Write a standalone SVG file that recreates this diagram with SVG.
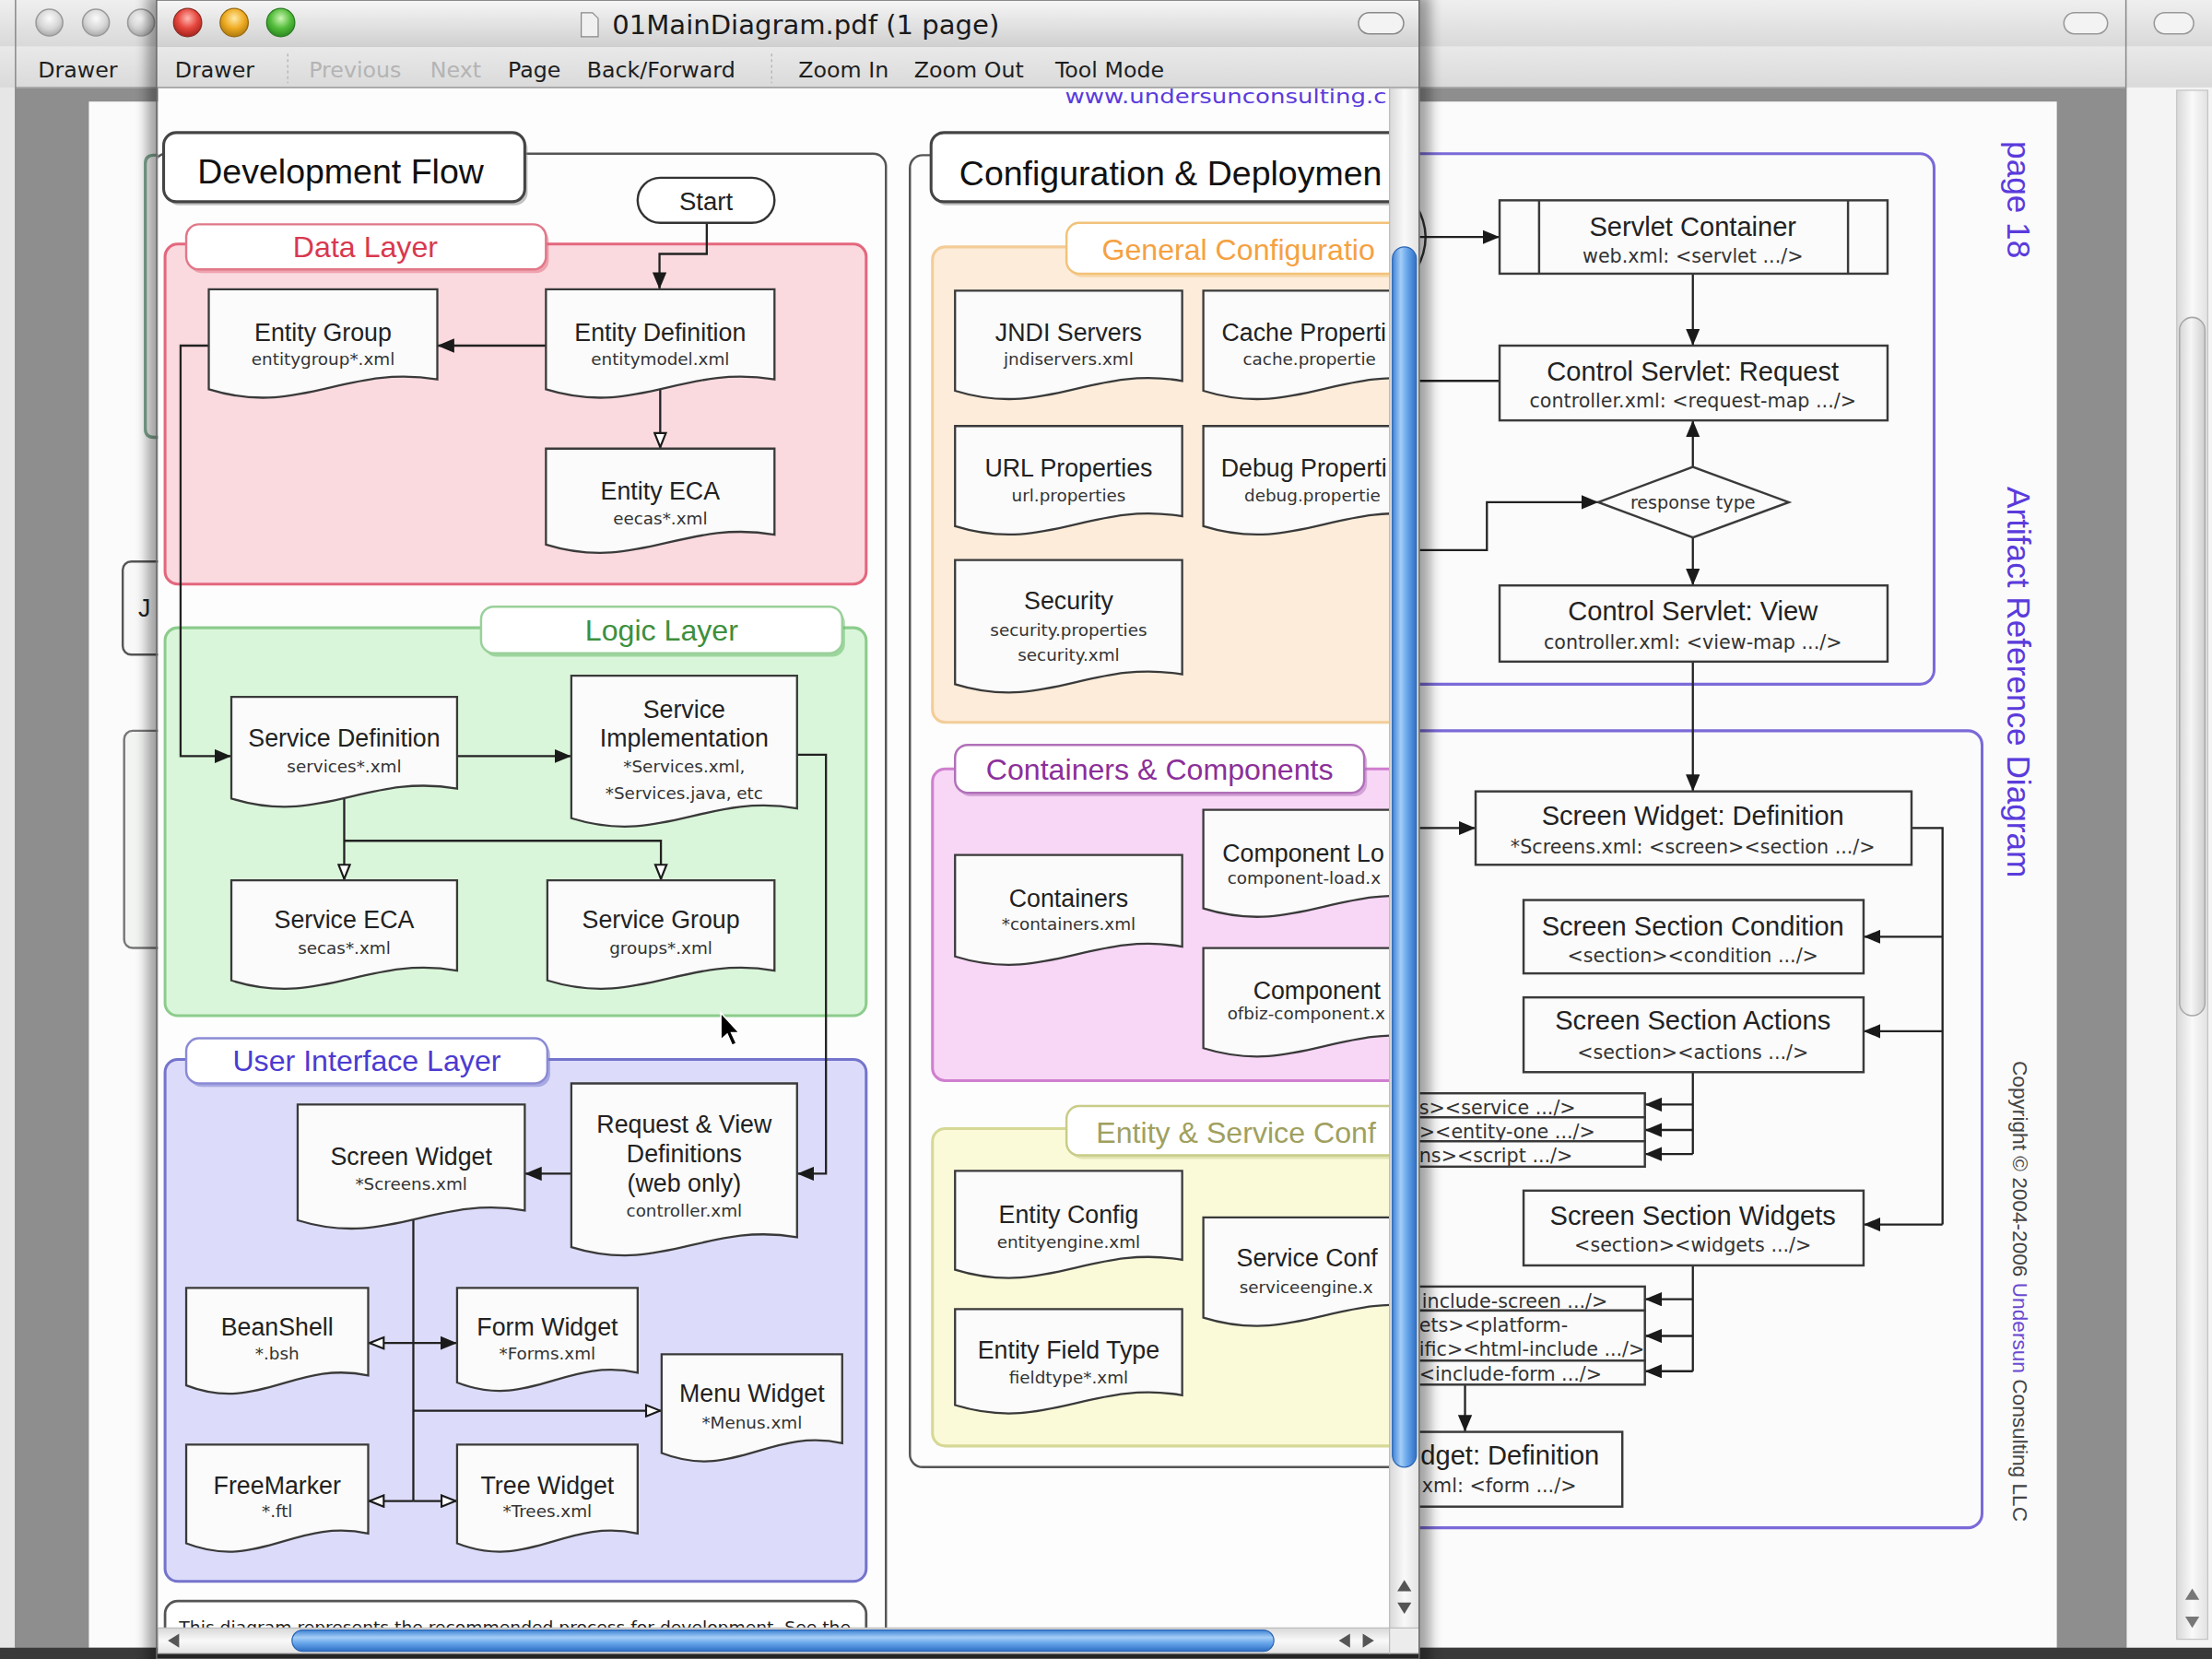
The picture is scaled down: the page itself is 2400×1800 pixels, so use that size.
<svg xmlns="http://www.w3.org/2000/svg" width="2400" height="1800" viewBox="0 0 2400 1800">
<defs>
<style>
.tb{font-family:'DejaVu Sans',Verdana,sans-serif;font-size:15.5px;fill:#1e1e1e}
.tbd{font-family:'DejaVu Sans',Verdana,sans-serif;font-size:15.5px;fill:#b4b4b4}
.h1{font-family:'Liberation Sans',Arial,sans-serif;font-size:24.5px;fill:#111}
.h2{font-family:'Liberation Sans',Arial,sans-serif;font-size:21px;text-anchor:middle}
.h2s{font-family:'Liberation Sans',Arial,sans-serif;font-size:21px}
.t{font-family:'Liberation Sans',Arial,sans-serif;font-size:17.5px;fill:#222;text-anchor:middle}
.ts{font-family:'Liberation Sans',Arial,sans-serif;font-size:17.5px;fill:#222}
.s{font-family:'DejaVu Sans',Verdana,sans-serif;font-size:12px;fill:#333;text-anchor:middle}
.ss{font-family:'DejaVu Sans',Verdana,sans-serif;font-size:12px;fill:#333}
.bt{font-family:'Liberation Sans',Arial,sans-serif;font-size:19px;fill:#222;text-anchor:middle}
.bts{font-family:'Liberation Sans',Arial,sans-serif;font-size:19px;fill:#222}
.bs{font-family:'DejaVu Sans',Verdana,sans-serif;font-size:13.5px;fill:#333;text-anchor:middle}
.bss{font-family:'DejaVu Sans',Verdana,sans-serif;font-size:13.5px;fill:#333}
.doc{fill:#fbfbfb;stroke:#3a3a3a;stroke-width:1.5}
.box{fill:#fbfbfb;stroke:#3a3a3a;stroke-width:1.6}
.c{fill:none;stroke:#222;stroke-width:1.5}
.rot{font-family:'Liberation Sans',Arial,sans-serif;font-size:23px;fill:#5a3bdc}
</style>
<linearGradient id="gTitle" x1="0" y1="0" x2="0" y2="1"><stop offset="0" stop-color="#f6f6f6"/><stop offset="1" stop-color="#d0d0d0"/></linearGradient>
<linearGradient id="gTitleB" x1="0" y1="0" x2="0" y2="1"><stop offset="0" stop-color="#efefef"/><stop offset="1" stop-color="#d9d9d9"/></linearGradient>
<linearGradient id="gTool" x1="0" y1="0" x2="0" y2="1"><stop offset="0" stop-color="#e9e9e9"/><stop offset="1" stop-color="#dadada"/></linearGradient>
<linearGradient id="gThumbV" x1="0" y1="0" x2="1" y2="0"><stop offset="0" stop-color="#3f83d6"/><stop offset="0.35" stop-color="#a4cdf6"/><stop offset="0.6" stop-color="#6aa8ec"/><stop offset="1" stop-color="#2f6fc4"/></linearGradient>
<linearGradient id="gThumbH" x1="0" y1="0" x2="0" y2="1"><stop offset="0" stop-color="#3f83d6"/><stop offset="0.35" stop-color="#a4cdf6"/><stop offset="0.6" stop-color="#6aa8ec"/><stop offset="1" stop-color="#2f6fc4"/></linearGradient>
<linearGradient id="gTrackV" x1="0" y1="0" x2="1" y2="0"><stop offset="0" stop-color="#d8d8d8"/><stop offset="0.5" stop-color="#f9f9f9"/><stop offset="1" stop-color="#e2e2e2"/></linearGradient>
<linearGradient id="gTrackH" x1="0" y1="0" x2="0" y2="1"><stop offset="0" stop-color="#d8d8d8"/><stop offset="0.5" stop-color="#f9f9f9"/><stop offset="1" stop-color="#e2e2e2"/></linearGradient>
<linearGradient id="gGrayThumb" x1="0" y1="0" x2="1" y2="0"><stop offset="0" stop-color="#d6d6d6"/><stop offset="0.45" stop-color="#f6f6f6"/><stop offset="1" stop-color="#cfcfcf"/></linearGradient>
<radialGradient id="gRed" cx="0.5" cy="0.35" r="0.65"><stop offset="0" stop-color="#ffb8b0"/><stop offset="0.55" stop-color="#e5463d"/><stop offset="1" stop-color="#a5241c"/></radialGradient>
<radialGradient id="gYel" cx="0.5" cy="0.35" r="0.65"><stop offset="0" stop-color="#ffeaa8"/><stop offset="0.55" stop-color="#eeab22"/><stop offset="1" stop-color="#b07a10"/></radialGradient>
<radialGradient id="gGrn" cx="0.5" cy="0.35" r="0.65"><stop offset="0" stop-color="#cdf6b6"/><stop offset="0.55" stop-color="#54bd3b"/><stop offset="1" stop-color="#2b8a21"/></radialGradient>
<radialGradient id="gGray" cx="0.5" cy="0.35" r="0.65"><stop offset="0" stop-color="#fbfbfb"/><stop offset="0.6" stop-color="#d6d6d6"/><stop offset="1" stop-color="#a9a9a9"/></radialGradient>
<filter id="blur" x="-5%" y="-5%" width="110%" height="110%"><feGaussianBlur stdDeviation="4"/></filter>
<marker id="af" viewBox="0 0 12 10" refX="12" refY="5" markerWidth="12" markerHeight="10" orient="auto" markerUnits="userSpaceOnUse"><path d="M0,0 L12,5 L0,10 Z" fill="#1a1a1a"/></marker>
<marker id="ah" viewBox="0 0 12 10" refX="12" refY="5" markerWidth="12" markerHeight="10" orient="auto" markerUnits="userSpaceOnUse"><path d="M1,1 L11,5 L1,9 Z" fill="#fff" stroke="#1a1a1a" stroke-width="1.4"/></marker>
<clipPath id="cA"><rect x="112" y="62" width="873" height="1092"/></clipPath>
<clipPath id="cB"><rect x="63" y="72" width="1395" height="1096"/></clipPath>
</defs>

<g transform="scale(1.5306122)">
<rect x="0" y="0" width="1568" height="1176" fill="#e6e6e6"/>

<!-- far back window C -->
<g id="window-c">
<rect x="0" y="0" width="1568" height="33" fill="url(#gTitleB)"/>
<rect x="0" y="33" width="1568" height="29" fill="url(#gTool)"/>
<rect x="1527" y="9" width="28" height="15" rx="7.5" fill="#f3f3f3" stroke="#999"/>
<rect x="1507" y="62" width="61" height="1106" fill="#f4f4f4"/>
<rect x="1543" y="64" width="22" height="1098" fill="url(#gTrackV)" stroke="#c4c4c4" stroke-width="0.8"/>
<rect x="1545" y="225" width="18" height="495" rx="9" fill="url(#gGrayThumb)" stroke="#a8a8a8"/>
<path d="M1549,1134 L1554,1126 L1559,1134 Z" fill="#777"/>
<path d="M1549,1146 L1554,1154 L1559,1146 Z" fill="#777"/>
</g>

<!-- back window B -->
<g id="window-b">
<rect x="11" y="0" width="1496" height="33" fill="url(#gTitleB)"/>
<circle cx="35" cy="16" r="9.5" fill="url(#gGray)" stroke="#9a9a9a"/>
<circle cx="68" cy="16" r="9.5" fill="url(#gGray)" stroke="#9a9a9a"/>
<circle cx="100" cy="16" r="9.5" fill="url(#gGray)" stroke="#9a9a9a"/>
<rect x="1463" y="9" width="31" height="15" rx="7.5" fill="#f3f3f3" stroke="#999"/>
<rect x="11" y="33" width="1496" height="29" fill="url(#gTool)"/>
<line x1="11" y1="62" x2="1507" y2="62" stroke="#9c9c9c"/>
<text x="27" y="55" class="tb">Drawer</text>
<rect x="11" y="62.5" width="1496" height="1106" fill="#8e8e8e"/>
<rect x="63" y="72" width="1395" height="1096" fill="#fbfbfb"/>
<line x1="11" y1="0" x2="11" y2="1168" stroke="#8a8a8a"/>
<line x1="1507" y1="0" x2="1507" y2="1168" stroke="#8a8a8a"/>
</g>

<!-- page content of window B -->
<g id="page-b" clip-path="url(#cB)">
<path d="M116,110 H109 Q103,110 103,116 V304 Q103,310 109,310 H116" fill="none" stroke="#7fa892" stroke-width="2.2"/>
<g id="b-jndi"><rect x="87" y="398" width="40" height="66" rx="6" fill="#f8f8f8" stroke="#555" stroke-width="1.6"/><text x="98" y="437" class="ts">J</text></g>
<g id="b-box2"><rect x="88" y="518" width="40" height="154" rx="6" fill="#f2f4f2" stroke="#777" stroke-width="1.6"/></g>

<rect x="300" y="109" width="1071" height="376" rx="10" fill="none" stroke="#7a6ad8" stroke-width="2"/>
<rect x="300" y="518" width="1105" height="565" rx="10" fill="none" stroke="#7a6ad8" stroke-width="2"/>
<path d="M1004,146 Q1017,168 1004,191" fill="none" stroke="#333" stroke-width="1.6"/>

<g id="connectors-page">
<path class="c" d="M1006,168 H1063" marker-end="url(#af)"/>
<path class="c" d="M1200,194 V245" marker-end="url(#af)"/>
<path class="c" d="M1006,270 H1063"/>
<path class="c" d="M1200,331 V298" marker-end="url(#af)"/>
<path class="c" d="M1006,390 H1054 V356 H1133" marker-end="url(#af)"/>
<path class="c" d="M1200,381 V415" marker-end="url(#af)"/>
<path class="c" d="M1200,469 V561" marker-end="url(#af)"/>
<path class="c" d="M1006,587 H1046" marker-end="url(#af)"/>
<path class="c" d="M1355,587 H1377 V868"/>
<path class="c" d="M1377,664 H1321" marker-end="url(#af)"/>
<path class="c" d="M1377,731 H1321" marker-end="url(#af)"/>
<path class="c" d="M1377,868 H1321" marker-end="url(#af)"/>
<path class="c" d="M1200,760 V818"/>
<path class="c" d="M1200,783 H1166" marker-end="url(#af)"/>
<path class="c" d="M1200,801 H1166" marker-end="url(#af)"/>
<path class="c" d="M1200,818 H1166" marker-end="url(#af)"/>
<path class="c" d="M1200,897 V972"/>
<path class="c" d="M1200,921 H1166" marker-end="url(#af)"/>
<path class="c" d="M1200,947 H1166" marker-end="url(#af)"/>
<path class="c" d="M1200,972 H1166" marker-end="url(#af)"/>
<path class="c" d="M1038.5,981.5 V1015" marker-end="url(#af)"/>
</g>

<g id="servlet-container"><rect class="box" x="1063" y="142" width="275" height="52"/><line x1="1091" y1="142" x2="1091" y2="194" stroke="#3a3a3a" stroke-width="1.6"/><line x1="1310" y1="142" x2="1310" y2="194" stroke="#3a3a3a" stroke-width="1.6"/><text x="1200" y="167" class="bt">Servlet Container</text><text x="1200" y="186" class="bs">web.xml: &lt;servlet .../&gt;</text></g>
<g id="control-request"><rect class="box" x="1063" y="245" width="275" height="53"/><text x="1200" y="270" class="bt">Control Servlet: Request</text><text x="1200" y="289" class="bs">controller.xml: &lt;request-map .../&gt;</text></g>
<g id="response-type"><path class="box" d="M1133,356 L1200,331 L1268,356 L1200,381 Z"/><text x="1200" y="360.5" class="bs" style="font-size:12.5px">response type</text></g>
<g id="control-view"><rect class="box" x="1063" y="415" width="275" height="54"/><text x="1200" y="440" class="bt">Control Servlet: View</text><text x="1200" y="460" class="bs">controller.xml: &lt;view-map .../&gt;</text></g>
<g id="screen-widget-def"><rect class="box" x="1046" y="561" width="309" height="52"/><text x="1200" y="585" class="bt">Screen Widget: Definition</text><text x="1200" y="605" class="bs">*Screens.xml: &lt;screen&gt;&lt;section .../&gt;</text></g>
<g id="section-condition"><rect class="box" x="1080" y="638" width="241" height="52"/><text x="1200" y="663" class="bt">Screen Section Condition</text><text x="1200" y="682" class="bs">&lt;section&gt;&lt;condition .../&gt;</text></g>
<g id="section-actions"><rect class="box" x="1080" y="707" width="241" height="53"/><text x="1200" y="730" class="bt">Screen Section Actions</text><text x="1200" y="751" class="bs">&lt;section&gt;&lt;actions .../&gt;</text></g>
<g id="actions-list"><rect class="box" x="960" y="775" width="206" height="17"/><rect class="box" x="960" y="792" width="206" height="17"/><rect class="box" x="960" y="809" width="206" height="18"/>
<text x="1006" y="790" class="bss">s&gt;&lt;service .../&gt;</text><text x="1006" y="807" class="bss">&gt;&lt;entity-one .../&gt;</text><text x="1006" y="824" class="bss">ns&gt;&lt;script .../&gt;</text></g>
<g id="section-widgets"><rect class="box" x="1080" y="844" width="241" height="53"/><text x="1200" y="868" class="bt">Screen Section Widgets</text><text x="1200" y="887" class="bs">&lt;section&gt;&lt;widgets .../&gt;</text></g>
<g id="widgets-list"><rect class="box" x="960" y="912" width="206" height="17"/><rect class="box" x="960" y="929" width="206" height="35.5"/><rect class="box" x="960" y="964.5" width="206" height="17"/>
<text x="1008" y="927" class="bss">include-screen .../&gt;</text><text x="1006" y="944" class="bss">ets&gt;&lt;platform-</text><text x="1006" y="961" class="bss">ific&gt;&lt;html-include .../&gt;</text><text x="1006" y="979" class="bss">&lt;include-form .../&gt;</text></g>
<g id="form-widget-def"><rect class="box" x="940" y="1015" width="210" height="53"/><text x="1007" y="1038" class="bts">dget: Definition</text><text x="1008" y="1058" class="bss">xml: &lt;form .../&gt;</text></g>

<text transform="translate(1423,100) rotate(90)" class="rot">page 18</text>
<text transform="translate(1423,345) rotate(90)" class="rot">Artifact Reference Diagram</text>
<text transform="translate(1427,752) rotate(90)" style="font-family:'Liberation Sans',Arial,sans-serif;font-size:14.8px;fill:#444">Copyright © 2004-2006 <tspan fill="#6a4ad0">Undersun</tspan> Consulting LLC</text>
</g>

<rect x="0" y="1168" width="1568" height="8" fill="#3a3a3a"/>

<!-- front window A -->
<rect x="104" y="-4" width="910" height="1190" fill="#000" opacity="0.35" filter="url(#blur)"/>
<g id="window-a">
<rect x="111" y="0" width="895" height="33" fill="url(#gTitle)"/>
<circle cx="133" cy="16" r="10" fill="url(#gRed)" stroke="#8a2a22" stroke-width="0.8"/>
<circle cx="166" cy="16" r="10" fill="url(#gYel)" stroke="#96680e" stroke-width="0.8"/>
<circle cx="199" cy="16" r="10" fill="url(#gGrn)" stroke="#2a7a20" stroke-width="0.8"/>
<path d="M412,9 H420 L424,13 V26 H412 Z" fill="#f0f0f0" stroke="#888" stroke-width="0.8"/>
<text x="434" y="24" style="font-family:'DejaVu Sans',Verdana,sans-serif;font-size:19px;fill:#1a1a1a">01MainDiagram.pdf (1 page)</text>
<rect x="963" y="9" width="32" height="15" rx="7.5" fill="#f3f3f3" stroke="#8a8a8a"/>
<rect x="111" y="33" width="895" height="29" fill="url(#gTool)"/>
<line x1="111" y1="62" x2="1006" y2="62" stroke="#999"/>
<text x="124" y="55" class="tb">Drawer</text>
<line x1="204" y1="38" x2="204" y2="59" stroke="#b8b8b8" stroke-dasharray="2,2"/>
<text x="219" y="55" class="tbd">Previous</text>
<text x="305" y="55" class="tbd">Next</text>
<text x="360" y="55" class="tb">Page</text>
<text x="416" y="55" class="tb">Back/Forward</text>
<line x1="547" y1="38" x2="547" y2="59" stroke="#b8b8b8" stroke-dasharray="2,2"/>
<text x="566" y="55" class="tb">Zoom In</text>
<text x="648" y="55" class="tb">Zoom Out</text>
<text x="748" y="55" class="tb">Tool Mode</text>

<rect x="112" y="62.5" width="873" height="1092" fill="#fdfdfd"/>

<g id="content-a" clip-path="url(#cA)">
<text x="755" y="73" style="font-family:'DejaVu Sans',Verdana,sans-serif;font-size:14px;fill:#5a3bdc" textLength="228" lengthAdjust="spacingAndGlyphs">www.undersunconsulting.c</text>

<!-- Development Flow panel -->
<g id="dev-flow-panel">
<rect x="109" y="109" width="519" height="1100" rx="9" fill="none" stroke="#555" stroke-width="1.6"/>
<rect x="118" y="96.5" width="256" height="49" rx="9" fill="#888" opacity="0.5"/>
<rect x="116" y="94" width="256" height="49" rx="9" fill="#fff" stroke="#444" stroke-width="2"/>
<text x="140" y="130" class="h1">Development Flow</text>
</g>

<g id="data-layer">
<rect x="117" y="173" width="497" height="241" rx="9" fill="#fadadf" stroke="#e3677d" stroke-width="2"/>
<rect x="134" y="161.5" width="255" height="32" rx="9" fill="#e3677d" opacity="0.5"/>
<rect x="132" y="159" width="255" height="32" rx="9" fill="#fff" stroke="#e07888" stroke-width="1.6"/>
<text x="259" y="182.5" class="h2" fill="#d9384f">Data Layer</text>
</g>
<g id="logic-layer">
<rect x="117" y="445" width="497" height="275" rx="9" fill="#daf6da" stroke="#8ccc8c" stroke-width="2"/>
<rect x="343" y="432.5" width="256" height="33" rx="9" fill="#6cbc6c" opacity="0.55"/>
<rect x="341" y="430" width="256" height="33" rx="9" fill="#fff" stroke="#9ad09a" stroke-width="1.6"/>
<text x="469" y="454" class="h2" fill="#3d8f3d">Logic Layer</text>
</g>
<g id="ui-layer">
<rect x="117" y="751" width="497" height="370" rx="9" fill="#dcdcfa" stroke="#7474cc" stroke-width="2"/>
<rect x="134" y="738.5" width="256" height="32" rx="9" fill="#7474cc" opacity="0.5"/>
<rect x="132" y="736" width="256" height="32" rx="9" fill="#fff" stroke="#8a8ad6" stroke-width="1.6"/>
<text x="260" y="759" class="h2" fill="#4b3bd1">User Interface Layer</text>
</g>
<g id="note-box">
<rect x="117" y="1135" width="497" height="60" rx="9" fill="#fff" stroke="#555" stroke-width="1.8"/>
<text x="127" y="1158" textLength="476" lengthAdjust="spacingAndGlyphs" style="font-family:'DejaVu Sans',Verdana,sans-serif;font-size:11.7px;fill:#222">This diagram represents the recommended process for development. See the</text>
</g>

<!-- Configuration & Deployment panel -->
<g id="config-panel">
<rect x="645" y="110" width="420" height="930" rx="9" fill="none" stroke="#555" stroke-width="1.6"/>
<rect x="662" y="96.5" width="400" height="49" rx="9" fill="#888" opacity="0.5"/>
<rect x="660" y="94" width="400" height="49" rx="9" fill="#fff" stroke="#444" stroke-width="2"/>
<text x="680" y="131" class="h1">Configuration &amp; Deploymen</text>
</g>
<g id="general-config">
<rect x="661" y="175" width="380" height="337" rx="9" fill="#fcecd9" stroke="#f3cc98" stroke-width="2"/>
<rect x="758" y="160.5" width="280" height="36" rx="9" fill="#f3c27a" opacity="0.5"/>
<rect x="756" y="158" width="280" height="36" rx="9" fill="#fff" stroke="#f2c27a" stroke-width="1.6"/>
<text x="781" y="184.5" class="h2s" fill="#f5a142">General Configuratio</text>
</g>
<g id="containers-components">
<rect x="661" y="545" width="380" height="221" rx="9" fill="#f8d6f6" stroke="#cf7fcf" stroke-width="2"/>
<rect x="679" y="530.5" width="290" height="34" rx="9" fill="#b070b8" opacity="0.5"/>
<rect x="677" y="528" width="290" height="34" rx="9" fill="#fff" stroke="#b070b8" stroke-width="1.6"/>
<text x="822" y="552.5" class="h2" fill="#8b2f99">Containers &amp; Components</text>
</g>
<g id="entity-service-config">
<rect x="661" y="800" width="380" height="225" rx="9" fill="#fafad9" stroke="#d6d895" stroke-width="2"/>
<rect x="758" y="786.5" width="280" height="35" rx="9" fill="#c8cc88" opacity="0.5"/>
<rect x="756" y="784" width="280" height="35" rx="9" fill="#fff" stroke="#c8cc88" stroke-width="1.6"/>
<text x="777" y="810" class="h2s" fill="#a0a05e">Entity &amp; Service Conf</text>
</g>

<!-- connectors (front) -->
<g id="connectors">
<path class="c" d="M501,158 V180 H467.5 V205" marker-end="url(#af)"/>
<path class="c" d="M387,245 H310" marker-end="url(#af)"/>
<path class="c" d="M468,276 V318" marker-end="url(#ah)"/>
<path class="c" d="M148,245 H128 V536 H164" marker-end="url(#af)"/>
<path class="c" d="M324,536 H405" marker-end="url(#af)"/>
<path class="c" d="M565,535 H585.5 V832 H565" marker-end="url(#af)"/>
<path class="c" d="M244,566 V624" marker-end="url(#ah)"/>
<path class="c" d="M244,596 H468.5 V624" marker-end="url(#ah)"/>
<path class="c" d="M405,832 H372" marker-end="url(#af)"/>
<path class="c" d="M293,865 V1064"/>
<path class="c" d="M293,952 H261" marker-end="url(#ah)"/>
<path class="c" d="M293,952 H324" marker-end="url(#af)"/>
<path class="c" d="M293,1000 H469" marker-end="url(#ah)"/>
<path class="c" d="M293,1064 H261" marker-end="url(#ah)"/>
<path class="c" d="M293,1064 H324" marker-end="url(#ah)"/>
</g>

<!-- nodes -->
<g id="start"><rect x="452" y="126" width="97" height="32" rx="16" fill="#fff" stroke="#333" stroke-width="1.6"/><text x="500.5" y="149" class="t" style="font-size:18px">Start</text></g>
<g id="entity-group"><path class="doc" d="M148,205 H310 V269 C245.2,258 212.8,296 148,276 Z"/><text x="229" y="242" class="t">Entity Group</text><text x="229" y="258.5" class="s">entitygroup*.xml</text></g>
<g id="entity-definition"><path class="doc" d="M387,205 H549 V269 C484.2,258 451.8,296 387,276 Z"/><text x="468" y="242" class="t">Entity Definition</text><text x="468" y="258.5" class="s">entitymodel.xml</text></g>
<g id="entity-eca"><path class="doc" d="M387,318 H549 V379 C484.2,368 451.8,406 387,386 Z"/><text x="468" y="354" class="t">Entity ECA</text><text x="468" y="371.5" class="s">eecas*.xml</text></g>
<g id="service-definition"><path class="doc" d="M164,494 H324 V559 C260,548 228,586 164,566 Z"/><text x="244" y="529" class="t">Service Definition</text><text x="244" y="547.5" class="s">services*.xml</text></g>
<g id="service-implementation"><path class="doc" d="M405,479 H565 V573 C501,562 469,600 405,580 Z"/><text x="485" y="509" class="t">Service</text><text x="485" y="529" class="t">Implementation</text><text x="485" y="547.5" class="s">*Services.xml,</text><text x="485" y="566.5" class="s">*Services.java, etc</text></g>
<g id="service-eca"><path class="doc" d="M164,624 H324 V688 C260,677 228,715 164,695 Z"/><text x="244" y="658" class="t">Service ECA</text><text x="244" y="676.5" class="s">secas*.xml</text></g>
<g id="service-group"><path class="doc" d="M388,624 H549 V688 C484.6,677 452.4,715 388,695 Z"/><text x="468.5" y="658" class="t">Service Group</text><text x="468.5" y="676.5" class="s">groups*.xml</text></g>
<g id="screen-widget"><path class="doc" d="M211,783 H372 V858 C307.6,847 275.4,885 211,865 Z"/><text x="291.5" y="826" class="t">Screen Widget</text><text x="291.5" y="843.5" class="s">*Screens.xml</text></g>
<g id="request-view"><path class="doc" d="M405,768 H565 V877 C501,866 469,904 405,884 Z"/><text x="485" y="803" class="t">Request &amp; View</text><text x="485" y="824" class="t">Definitions</text><text x="485" y="845" class="t">(web only)</text><text x="485" y="862.5" class="s">controller.xml</text></g>
<g id="beanshell"><path class="doc" d="M132,913 H261 V975 C209.4,964 183.6,1002 132,982 Z"/><text x="196.5" y="947" class="t">BeanShell</text><text x="196.5" y="963.5" class="s">*.bsh</text></g>
<g id="form-widget"><path class="doc" d="M324,913 H452 V973 C400.8,962 375.2,1000 324,980 Z"/><text x="388" y="947" class="t">Form Widget</text><text x="388" y="963.5" class="s">*Forms.xml</text></g>
<g id="menu-widget"><path class="doc" d="M469,960 H597 V1023 C545.8,1012 520.2,1050 469,1030 Z"/><text x="533" y="994" class="t">Menu Widget</text><text x="533" y="1012.5" class="s">*Menus.xml</text></g>
<g id="freemarker"><path class="doc" d="M132,1024 H261 V1087 C209.4,1076 183.6,1114 132,1094 Z"/><text x="196.5" y="1059" class="t">FreeMarker</text><text x="196.5" y="1075.5" class="s">*.ftl</text></g>
<g id="tree-widget"><path class="doc" d="M324,1024 H452 V1087 C400.8,1076 375.2,1114 324,1094 Z"/><text x="388" y="1059" class="t">Tree Widget</text><text x="388" y="1075.5" class="s">*Trees.xml</text></g>

<g id="jndi-servers"><path class="doc" d="M677,206 H838 V270 C773.6,259 741.4,297 677,277 Z"/><text x="757.5" y="242" class="t">JNDI Servers</text><text x="757.5" y="258.5" class="s">jndiservers.xml</text></g>
<g id="cache-properties"><path class="doc" d="M853,206 H1014 V270 C949.6,259 917.4,297 853,277 Z"/><text x="866" y="242" class="ts">Cache Properti</text><text x="881" y="258.5" class="ss">cache.propertie</text></g>
<g id="url-properties"><path class="doc" d="M677,302 H838 V366 C773.6,355 741.4,393 677,373 Z"/><text x="757.5" y="338" class="t">URL Properties</text><text x="757.5" y="355.5" class="s">url.properties</text></g>
<g id="debug-properties"><path class="doc" d="M853,302 H1014 V366 C949.6,355 917.4,393 853,373 Z"/><text x="865.5" y="338" class="ts">Debug Properti</text><text x="882" y="355.5" class="ss">debug.propertie</text></g>
<g id="security"><path class="doc" d="M677,397 H838 V478 C773.6,467 741.4,505 677,485 Z"/><text x="757.5" y="432" class="t">Security</text><text x="757.5" y="450.5" class="s">security.properties</text><text x="757.5" y="468.5" class="s">security.xml</text></g>
<g id="containers"><path class="doc" d="M677,606 H838 V671 C773.6,660 741.4,698 677,678 Z"/><text x="757.5" y="643" class="t">Containers</text><text x="757.5" y="659.5" class="s">*containers.xml</text></g>
<g id="component-load"><path class="doc" d="M853,574 H1014 V637 C949.6,626 917.4,664 853,644 Z"/><text x="866.5" y="611" class="ts">Component Lo</text><text x="870" y="626.5" class="ss">component-load.x</text></g>
<g id="component"><path class="doc" d="M853,672 H1014 V736 C949.6,725 917.4,763 853,743 Z"/><text x="933.5" y="708" class="t">Component</text><text x="870" y="722.5" class="ss">ofbiz-component.x</text></g>
<g id="entity-config"><path class="doc" d="M677,830 H838 V893 C773.6,882 741.4,920 677,900 Z"/><text x="757.5" y="867" class="t">Entity Config</text><text x="757.5" y="884.5" class="s">entityengine.xml</text></g>
<g id="service-config"><path class="doc" d="M853,863 H1014 V927 C949.6,916 917.4,954 853,934 Z"/><text x="876.5" y="898" class="ts">Service Conf</text><text x="878.5" y="916.5" class="ss">serviceengine.x</text></g>
<g id="entity-field-type"><path class="doc" d="M677,928 H838 V989 C773.6,978 741.4,1016 677,996 Z"/><text x="757.5" y="963" class="t">Entity Field Type</text><text x="757.5" y="980.5" class="s">fieldtype*.xml</text></g>

<path d="M511,718 L511,737 L515.5,733 L519,741 L522,739.5 L518.5,732 L524,732 Z" fill="#000" stroke="#fff" stroke-width="1"/>
</g>

<!-- scrollbars -->
<rect x="985" y="62.5" width="21" height="1092" fill="url(#gTrackV)" stroke="#bdbdbd" stroke-width="0.8"/>
<rect x="987" y="175" width="17" height="865" rx="8.5" fill="url(#gThumbV)" stroke="#2d66b4" stroke-width="0.8"/>
<path d="M990.5,1128 L995.5,1120 L1000.5,1128 Z" fill="#555"/>
<path d="M990.5,1136 L995.5,1144 L1000.5,1136 Z" fill="#555"/>
<rect x="112" y="1154" width="873" height="18" fill="url(#gTrackH)" stroke="#bdbdbd" stroke-width="0.8"/>
<rect x="207" y="1155.5" width="696" height="15" rx="7.5" fill="url(#gThumbH)" stroke="#2d66b4" stroke-width="0.8"/>
<path d="M127,1158 L119,1163 L127,1168 Z" fill="#555"/>
<path d="M957,1158 L949,1163 L957,1168 Z" fill="#555"/>
<path d="M966,1158 L974,1163 L966,1168 Z" fill="#555"/>
<rect x="985" y="1154" width="21" height="18" fill="#ececec" stroke="#bdbdbd" stroke-width="0.8"/>
<rect x="111" y="0" width="895" height="1176" fill="none" stroke="#6a6a6a" stroke-width="1"/>
</g>
</g>
</svg>
